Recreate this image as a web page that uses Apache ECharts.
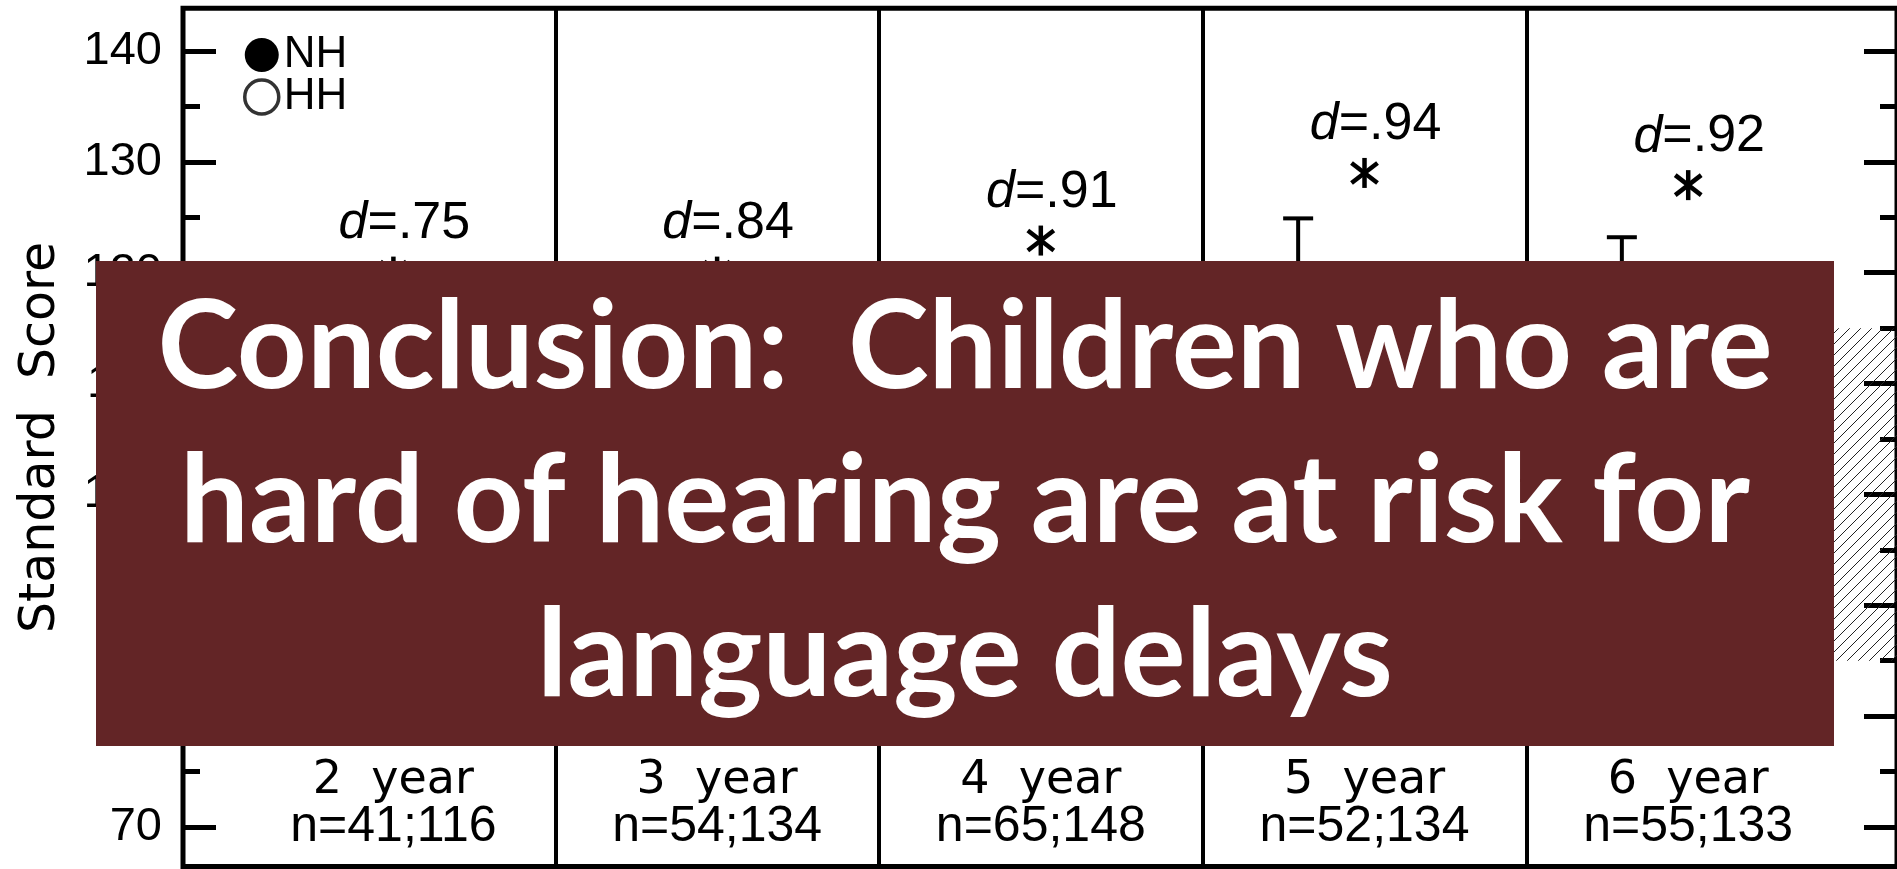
<!DOCTYPE html>
<html>
<head>
<meta charset="utf-8">
<title>Standard Score by age</title>
<script src="https://cdn.jsdelivr.net/npm/echarts@6/dist/echarts.min.js"></script>
<style>
  html, body { margin: 0; padding: 0; background: #fff; }
  #chart { width: 1897px; height: 869px; }
</style>
</head>
<body>
<div id="chart"></div>
<script>
// ---- data ----
const ageYears = [2, 3, 4, 5, 6];
const ageLabels = ['2  year', '3  year', '4  year', '5  year', '6  year'];
const sampleSizes = ['41;116', '54;134', '65;148', '52;134', '55;133'];
const effectSizes = ['.75', '.84', '.91', '.94', '.92'];
const starScores = [120.1, 120.1, 122.9, 129.0, 127.9];   // asterisk heights
const nhUpper = [null, null, null, 124.9, 123.2];          // visible error bar tops (NH)
const nhMean = [null, null, null, 110, 108];               // under the box, rough guess
const majorTicks = [70, 80, 90, 100, 110, 120, 130, 140];
const minorTicks = [75, 85, 95, 105, 115, 125, 135];
const normalRange = [85, 115];
const conclusion = ['Conclusion:  Children who are', 'hard of hearing are at risk for', 'language delays'];

const Y_MIN = 66.44, Y_MAX = 143.85;
const X_MIN = 1.35, X_MAX = 6.645;
const NARROW = "'Liberation Sans Narrow', 'Liberation Sans', sans-serif";
const WIDE = "'DejaVu Sans', sans-serif";

// diagonal hatch for the normal range band
const hatch = document.createElement('canvas');
hatch.width = 11; hatch.height = 11;
const hc = hatch.getContext('2d');
hc.strokeStyle = '#222';
hc.lineWidth = 1;
hc.beginPath();
hc.moveTo(0, 11); hc.lineTo(11, 0);
hc.moveTo(-1, 1); hc.lineTo(1, -1);
hc.moveTo(10, 12); hc.lineTo(12, 10);
hc.stroke();

function yAxisOf(pos, ticks, len, withLabels) {
    return {
        type: 'value', position: pos, min: Y_MIN, max: Y_MAX,
        axisLine: {show: false},
        splitLine: {show: false},
        axisTick: {show: true, inside: true, length: len, customValues: ticks,
            lineStyle: {color: '#000', width: 5}},
        axisLabel: {show: withLabels, customValues: ticks, margin: 21,
            fontSize: 47, fontFamily: NARROW, color: '#000'}
    };
}

const yAxes = [
    yAxisOf('left', majorTicks, 33, true),
    yAxisOf('left', minorTicks, 17, false),
    yAxisOf('right', majorTicks, 33, false),
    yAxisOf('right', minorTicks, 17, false)
];
yAxes[0].name = 'Standard  Score';
yAxes[0].nameLocation = 'middle';
yAxes[0].nameRotate = 90;
yAxes[0].nameGap = 117;
yAxes[0].nameTextStyle = {fontSize: 49, fontFamily: WIDE, color: '#000'};

const option = {
    animation: false,
    backgroundColor: '#fff',
    grid: {
        left: 183, top: 8.3, width: 1717, height: 858.2,
        show: true, borderColor: '#000', borderWidth: 5, backgroundColor: 'transparent'
    },
    legend: {
        orient: 'vertical', left: 238, top: 28,
        itemWidth: 34, itemHeight: 34, itemGap: -2,
        selectedMode: false,
        textStyle: {fontSize: 44, fontFamily: NARROW, color: '#000'},
        data: [
            {name: 'NH', icon: 'circle', itemStyle: {color: '#000', borderWidth: 0}},
            {name: 'HH', icon: 'circle', itemStyle: {color: '#fff', borderColor: '#000', borderWidth: 3.5}}
        ]
    },
    xAxis: {
        type: 'value', min: X_MIN, max: X_MAX,
        axisLine: {show: false}, axisTick: {show: false}, splitLine: {show: false},
        axisLabel: {
            inside: true, margin: 12, customValues: ageYears,
            formatter: function (v) {
                const i = ageYears.indexOf(v);
                return '{a|' + ageLabels[i] + '}\n{b|n=' + sampleSizes[i] + '}';
            },
            rich: {
                a: {fontSize: 46, fontFamily: WIDE, color: '#000', lineHeight: 38},
                b: {fontSize: 50, fontFamily: NARROW, color: '#000', lineHeight: 54}
            }
        }
    },
    yAxis: yAxes,
    series: [
        {
            // hatched normal range + panel dividers
            type: 'custom', name: 'norm', silent: true,
            data: [[normalRange[0], normalRange[1]]],
            renderItem: function (params, api) {
                const a = api.coord([6.3, api.value(1)]);
                const b = api.coord([X_MAX, api.value(0)]);
                return {type: 'rect', shape: {x: a[0], y: a[1], width: b[0] - a[0], height: b[1] - a[1]},
                    style: {fill: {image: hatch, repeat: 'repeat'}, stroke: null}};
            },
            markLine: {
                silent: true, symbol: 'none', label: {show: false},
                lineStyle: {color: '#000', width: 4, type: 'solid'},
                data: ageYears.slice(1).map(a => ({xAxis: a - 0.5}))
            }
        },
        {
            // NH upper error bars (T shapes)
            type: 'custom', name: 'NH', silent: true,
            itemStyle: {color: '#000'},
            data: ageYears.map((a, i) => [a - 0.205, nhMean[i], nhUpper[i]]).filter(d => d[2] != null),
            renderItem: function (params, api) {
                const top = api.coord([api.value(0), api.value(2)]);
                const bot = api.coord([api.value(0), api.value(1)]);
                return {type: 'group', children: [
                    {type: 'line', shape: {x1: top[0], y1: top[1], x2: bot[0], y2: bot[1]},
                        style: {stroke: '#000', lineWidth: 4}},
                    {type: 'line', shape: {x1: top[0] - 15, y1: top[1], x2: top[0] + 15, y2: top[1]},
                        style: {stroke: '#000', lineWidth: 4}}
                ]};
            }
        },
        {
            type: 'scatter', name: 'HH', data: [],
            itemStyle: {color: '#fff', borderColor: '#000', borderWidth: 3}
        },
        {
            // significance asterisks with Cohen's d
            type: 'custom', name: 'sig', silent: true,
            data: ageYears.map((a, i) => [a, starScores[i], i]),
            renderItem: function (params, api) {
                const p = api.coord([api.value(0), api.value(1)]);
                const i = api.value(2);
                const spokes = [[0, 15], [13, 10], [13, -10]];
                const kids = spokes.map(function (s) {
                    return {type: 'line',
                        shape: {x1: p[0] - s[0], y1: p[1] + s[1], x2: p[0] + s[0], y2: p[1] - s[1]},
                        style: {stroke: '#000', lineWidth: 4.5}};
                });
                kids.push({type: 'text', x: p[0] + 11, y: p[1] - 48,
                    style: {
                        text: '{i|d}=' + effectSizes[i],
                        fontSize: 52, fontFamily: NARROW, fill: '#000',
                        align: 'center', verticalAlign: 'middle',
                        rich: {i: {fontStyle: 'italic', fontSize: 52, fontFamily: NARROW, fill: '#000'}}
                    }});
                return {type: 'group', children: kids};
            }
        }
    ],
    graphic: [
        {type: 'rect', left: 96, top: 261, z: 100,
            shape: {width: 1738, height: 485}, style: {fill: '#632526'}},
        {type: 'text', x: 965, y: 503, z: 101,
            style: {text: conclusion.join('\n'), fill: '#fff', font: 'bold 122px Lato',
                align: 'center', verticalAlign: 'middle', textAlign: 'center', textVerticalAlign: 'middle',
                lineHeight: 154}}
    ]
};

const chart = echarts.init(document.getElementById('chart'));
chart.setOption(option);
</script>
</body>
</html>
